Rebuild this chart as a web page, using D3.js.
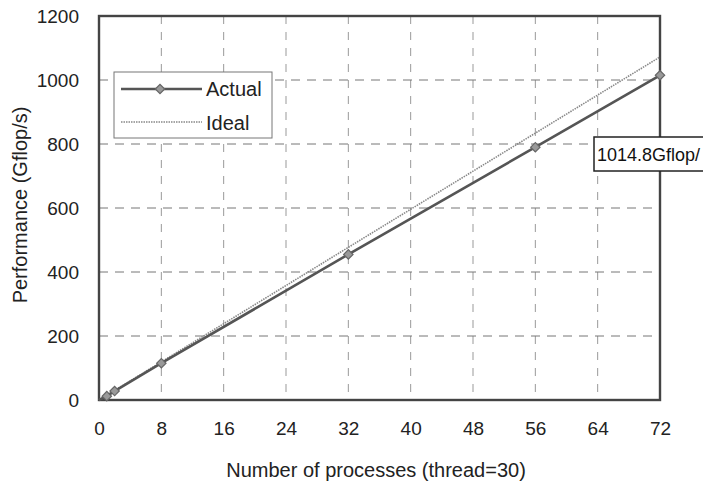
<!DOCTYPE html>
<html>
<head>
<meta charset="utf-8">
<script src="https://cdn.jsdelivr.net/npm/d3@7"></script>
<style>
  body { margin: 0; background: #fff; }
  svg { font-family: "Liberation Sans", Arial, sans-serif; }
  .tick text { font-size: 19px; fill: #222; }
  .axis-labels { font-size: 20px; fill: #222; }
</style>
</head>
<body>
<svg width="703" height="485"></svg>
<script>
// data
const processes = [1, 2, 8, 32, 56, 72];
const actual = [12, 28, 115, 455, 790, 1014.8];
const ideal = [15, 30, 119, 477, 834, 1072];
const xTicks = [0, 8, 16, 24, 32, 40, 48, 56, 64, 72];
const yTicks = [0, 200, 400, 600, 800, 1000, 1200];

const plotLeft = 99, plotRight = 660, plotTop = 16, plotBottom = 400;

const svg = d3.select("svg");

const x = d3.scaleLinear().domain([0, 72]).range([plotLeft, plotRight]);
const y = d3.scaleLinear().domain([0, 1200]).range([plotBottom, plotTop]);

// grid
svg.append("g")
    .selectAll("line")
    .data(xTicks.slice(1, -1))
    .join("line")
    .attr("x1", d => x(d)).attr("x2", d => x(d))
    .attr("y1", plotTop).attr("y2", plotBottom)
    .attr("stroke", "#999")
    .attr("stroke-width", 1)
    .attr("stroke-dasharray", "8,8");

svg.append("g")
    .selectAll("line")
    .data(yTicks.slice(1, -1))
    .join("line")
    .attr("x1", plotLeft).attr("x2", plotRight)
    .attr("y1", d => y(d)).attr("y2", d => y(d))
    .attr("stroke", "#777")
    .attr("stroke-width", 1)
    .attr("stroke-dasharray", "9,7");

// axes (labels only)
const botAxis = d3.axisBottom(x).tickValues(xTicks).tickSize(0).tickPadding(22)
    .tickFormat(d3.format("d"));
svg.append("g")
    .attr("transform", "translate(0," + plotBottom + ")")
    .call(botAxis)
    .call(g => g.select(".domain").remove());

const leftAxis = d3.axisLeft(y).tickValues(yTicks).tickSize(0).tickPadding(20)
    .tickFormat(d3.format("d"));
svg.append("g")
    .attr("transform", "translate(" + plotLeft + ",0)")
    .call(leftAxis)
    .call(g => g.select(".domain").remove());

// frame
svg.append("rect")
    .attr("x", plotLeft).attr("y", plotTop)
    .attr("width", plotRight - plotLeft).attr("height", plotBottom - plotTop)
    .attr("fill", "none")
    .attr("stroke", "#444")
    .attr("stroke-width", 2.4);

// ideal line
const pts = processes.map((p, i) => ({p: p, a: actual[i], id: ideal[i]}));
const idealLine = d3.line().x(d => x(d.p)).y(d => y(d.id));
svg.append("path")
    .datum([{p: 0, id: 0}].concat(pts))
    .attr("d", idealLine)
    .attr("fill", "none")
    .attr("stroke", "#888")
    .attr("stroke-width", 1.6)
    .attr("stroke-dasharray", "1.5,1");

// actual line
const actualLine = d3.line().x(d => x(d.p)).y(d => y(d.a));
svg.append("path")
    .datum([{p: 0, a: 0}].concat(pts))
    .attr("d", actualLine)
    .attr("fill", "none")
    .attr("stroke", "#555")
    .attr("stroke-width", 2.6);

// square diamond marker
const diamond = d3.symbol().type(d3.symbolSquare).size(44);
svg.append("g")
    .selectAll("path")
    .data(pts)
    .join("path")
    .attr("d", diamond)
    .attr("transform", d => "translate(" + x(d.p) + "," + y(d.a) + ") rotate(45)")
    .attr("fill", "#999")
    .attr("stroke", "#666")
    .attr("stroke-width", 1.2);

// legend
const legend = svg.append("g");
legend.append("rect")
    .attr("x", 114).attr("y", 72)
    .attr("width", 158).attr("height", 66)
    .attr("fill", "#fff")
    .attr("stroke", "#777")
    .attr("stroke-width", 1);
legend.append("line")
    .attr("x1", 121).attr("x2", 202)
    .attr("y1", 89).attr("y2", 89)
    .attr("stroke", "#555").attr("stroke-width", 2.6);
legend.append("path")
    .attr("d", diamond)
    .attr("transform", "translate(160,89) rotate(45)")
    .attr("fill", "#999").attr("stroke", "#666").attr("stroke-width", 1.2);
legend.append("text")
    .attr("class", "axis-labels")
    .attr("x", 206).attr("y", 96)
    .text("Actual");
legend.append("line")
    .attr("x1", 121).attr("x2", 202)
    .attr("y1", 122).attr("y2", 122)
    .attr("stroke", "#888").attr("stroke-width", 1.6)
    .attr("stroke-dasharray", "1.5,1");
legend.append("text")
    .attr("class", "axis-labels")
    .attr("x", 206).attr("y", 130)
    .text("Ideal");

// annotation
svg.append("rect")
    .attr("x", 594).attr("y", 137)
    .attr("width", 120).attr("height", 34)
    .attr("fill", "#fff")
    .attr("stroke", "#222")
    .attr("stroke-width", 1.5);
svg.append("text")
    .attr("x", 597).attr("y", 161)
    .attr("font-size", 19)
    .attr("fill", "#111")
    .attr("textLength", 103)
    .attr("lengthAdjust", "spacingAndGlyphs")
    .text(actual[actual.length - 1] + "Gflop/");

// axis titles
svg.append("text")
    .attr("class", "axis-labels")
    .attr("x", 376).attr("y", 477)
    .attr("text-anchor", "middle")
    .text("Number of processes (thread=30)");

svg.append("text")
    .attr("class", "axis-labels")
    .attr("text-anchor", "middle")
    .attr("transform", "translate(27,205) rotate(-90)")
    .text("Performance (Gflop/s)");
</script>
</body>
</html>
